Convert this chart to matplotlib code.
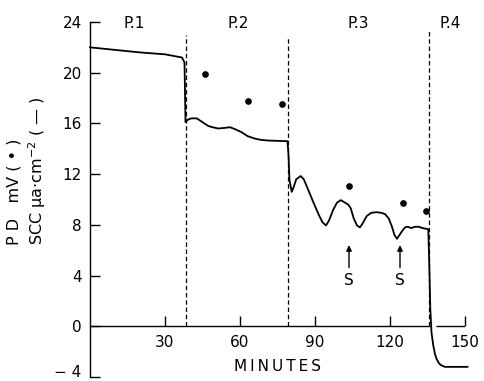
import matplotlib
matplotlib.use('Agg')
import matplotlib.pyplot as plt

# short-circuit current trace (solid line), minutes vs uA/cm^2
scc_minutes = [0, 10, 20, 30, 36.8, 37.8, 38.2, 39.2, 40.5, 42.7, 45, 47.3, 49, 51.3, 54, 56, 58,
               60.7, 63, 66, 68.5, 71.3, 79.0, 79.4, 79.8, 80.7, 81.5, 82.5, 84.3, 85.5, 87, 89.3,
               91.5, 93, 94.4, 95.5, 97.3, 98.8, 100.3, 102, 103.3, 104.3, 105.5, 106.8, 108, 109,
               110.7, 112.5, 114.7, 116.5, 118, 119.5, 120.7, 121.8, 122.8, 123.8, 124.8, 126, 127,
               128.5, 130, 131.5, 133, 135.3, 135.7, 136.1, 136.6, 137.3, 138, 138.7, 139.7, 140.7,
               142, 151]
scc_values = [22.0, 21.8, 21.6, 21.45, 21.2, 20.8, 16.1, 16.3, 16.4, 16.4, 16.1, 15.8, 15.7, 15.6,
              15.65, 15.7, 15.55, 15.3, 15.0, 14.8, 14.7, 14.65, 14.6, 13.5, 11.5, 10.6, 11.0, 11.6,
              11.85, 11.6, 10.9, 9.8, 8.8, 8.2, 7.95, 8.3, 9.2, 9.75, 9.95, 9.75, 9.6, 9.3, 8.5,
              7.95, 7.8, 8.1, 8.7, 8.95, 9.0, 8.95, 8.85, 8.5, 7.9, 7.2, 6.9, 7.2, 7.5, 7.8, 7.85,
              7.75, 7.85, 7.85, 7.75, 7.65, 5.0, 1.5, -0.5, -1.5, -2.2, -2.6, -2.95, -3.1, -3.2,
              -3.2]

# potential difference (dots), mV
pd_minutes = [46, 63.3, 76.8, 103.6, 125.3, 134.4]
pd_values = [19.9, 17.8, 17.5, 11.05, 9.7, 9.07]

# period boundaries and labels
period_bounds = [38.4, 79.2, 135.6]
period_tops = [23.0, 22.9, 23.4]
period_labels = ['P.1', 'P.2', 'P.3', 'P.4']
period_label_x = [17.7, 59.3, 107.3, 144]

# stimulus arrows
stim_minutes = [103.6, 124.0]

x_ticks = [30, 60, 90, 120, 150]
y_ticks = [-4, 0, 4, 8, 12, 16, 20, 24]

plt.rcParams['font.family'] = ['DejaVu Sans']
plt.rcParams['font.size'] = 11

fig = plt.figure(figsize=(4.84, 3.81), dpi=100)
ax = fig.add_axes([90 / 484, 4 / 381, 375 / 484, 355 / 381])
ax.set_xlim(0, 150)
ax.set_ylim(-4, 24)

ax.plot(scc_minutes, scc_values, color='black', lw=1.3, clip_on=False, zorder=3)
ax.plot(pd_minutes, pd_values, 'o', color='black', ms=3.8, clip_on=False, zorder=4)

ax.vlines(period_bounds, 0, period_tops, colors='black', lw=0.9,
          linestyles=(0, (3.6, 2.2)), zorder=2)
for lab, xp in zip(period_labels, period_label_x):
    ax.text(xp, 23.9, lab, ha='center', va='center', clip_on=False)

for t in stim_minutes:
    ax.annotate('S', xy=(t, 6.4), xytext=(t, 3.6), ha='center', va='center',
                arrowprops=dict(arrowstyle='-|>', color='black', lw=1.0,
                                mutation_scale=8, shrinkA=2, shrinkB=0))

# axes: left spine full height, x axis sits at zero with a break near the final drop
for side in ['top', 'right']:
    ax.spines[side].set_visible(False)
ax.spines['left'].set_bounds(-4, 24)
ax.spines['bottom'].set_position(('data', 0))
ax.spines['bottom'].set_bounds(0, 135.5)
ax.hlines(0, 138.5, 150, colors='black', lw=1.0)
ax.spines['left'].set_linewidth(1.0)
ax.spines['bottom'].set_linewidth(1.0)

ax.set_xticks(x_ticks)
ax.set_yticks(y_ticks)
ax.set_yticklabels(['\u2212 4'] + [str(v) for v in y_ticks[1:]])
ax.tick_params(axis='both', direction='in', length=7, width=1.0)
ax.tick_params(axis='x', pad=6)
ax.tick_params(axis='y', pad=6)
ax.get_yticklabels()[0].set_va('baseline')

ax.text(75, -3.2, 'M I N U T E S'.replace(' ', '\u2009'), ha='center', va='center', clip_on=False)

fig.text(0.057, 0.551, 'P D   mV ( \u2022 )\nSCC \u03bca\u00b7cm$^{-2}$ ( \u2014 )',
         rotation=90, ha='center', va='center', multialignment='left', linespacing=1.3,
         fontsize=11.5)

fig.savefig('out.png', dpi=100)
